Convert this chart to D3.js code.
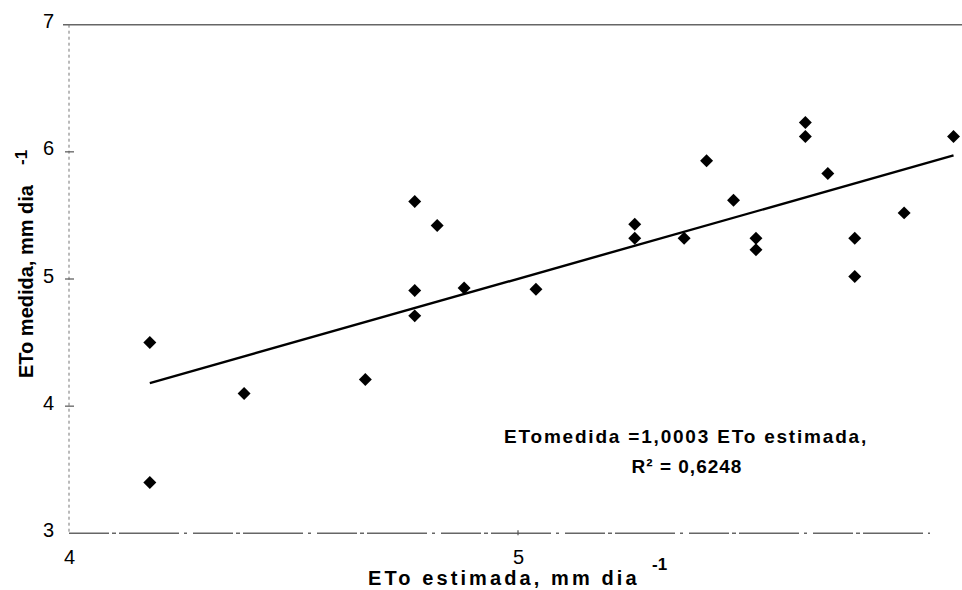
<!DOCTYPE html>
<html>
<head>
<meta charset="utf-8">
<script src="https://cdn.jsdelivr.net/npm/d3@7"></script>
<style>
  html, body { margin: 0; padding: 0; background: #fff; }
  svg { display: block; font-family: "Liberation Sans", Arial, sans-serif; }
</style>
</head>
<body>
<svg id="chart" width="962" height="590"></svg>
<script>
// ETo estimada (x) and ETo medida (y), mm dia-1
const etoEstimada = [4.18, 4.18, 4.39, 4.66, 4.77, 4.77, 4.77, 4.82, 4.88, 5.04,
                     5.26, 5.26, 5.37, 5.42, 5.48, 5.53, 5.53, 5.64, 5.64, 5.69,
                     5.75, 5.75, 5.86, 5.97];
const etoMedida   = [4.50, 3.40, 4.10, 4.21, 5.61, 4.91, 4.71, 5.42, 4.93, 4.92,
                     5.43, 5.32, 5.32, 5.93, 5.62, 5.32, 5.23, 6.23, 6.12, 5.83,
                     5.32, 5.02, 5.52, 6.12];
const yTicks = [3, 4, 5, 6, 7];
const yInnerTicks = [4, 5, 6];
const xTicks = [4, 5];
const slope = 1.0003;
const eqLine1 = "ETomedida =1,0003 ETo estimada,";
const eqLine2 = "R² = 0,6248";
const xTitle = "ETo estimada, mm dia";
const yTitle = "ETo  medida, mm dia";
const supText = "-1";

const points = etoEstimada.map((v, i) => ({ x: v, y: etoMedida[i] }));

const svg = d3.select("#chart");
const x = d3.scaleLinear().domain([4, 5]).range([69, 518]);
const y = d3.scaleLinear().domain([3, 7]).range([533.3, 24.7]);

// top and bottom frame lines
svg.append("line")
  .attr("x1", 63).attr("x2", 962)
  .attr("y1", y(7)).attr("y2", y(7))
  .attr("stroke", "#666").attr("stroke-width", 1.6);
svg.append("line")
  .attr("x1", x(4)).attr("x2", 930)
  .attr("y1", y(3)).attr("y2", y(3))
  .attr("stroke", "#666").attr("stroke-width", 1.5)
  .attr("stroke-dasharray", "40,3,4,3,60,5,3,6");

// left axis (dotted)
svg.append("line")
  .attr("x1", x(4)).attr("x2", x(4))
  .attr("y1", y(7)).attr("y2", y(3))
  .attr("stroke", "#777").attr("stroke-width", 1)
  .attr("stroke-dasharray", "3,3");

svg.selectAll("line.ytick")
  .data(yInnerTicks).enter().append("line")
  .attr("class", "ytick")
  .attr("x1", x(4) - 4).attr("x2", x(4) + 5)
  .attr("y1", d => y(d)).attr("y2", d => y(d))
  .attr("stroke", "#555").attr("stroke-width", 1.2);

svg.append("line")
  .attr("x1", x(5)).attr("x2", x(5))
  .attr("y1", y(3) - 3).attr("y2", y(3) + 2)
  .attr("stroke", "#555").attr("stroke-width", 1.2);

// y axis labels
const yAxis = d3.axisLeft(y).tickValues(yTicks).tickSize(0).tickPadding(15)
  .tickFormat(d3.format("d"));
const gy = svg.append("g").attr("transform", `translate(${x(4)},0)`).call(yAxis);
gy.select(".domain").remove();
gy.selectAll("text")
  .attr("dy", "0.15em")
  .attr("font-size", 20)
  .attr("font-family", "Liberation Sans, Arial, sans-serif")
  .attr("fill", "#000");

// x axis labels
const xAxis = d3.axisBottom(x).tickValues(xTicks).tickSize(0).tickPadding(17)
  .tickFormat(d3.format("d"));
const gx = svg.append("g").attr("transform", `translate(0,${y(3)})`).call(xAxis);
gx.select(".domain").remove();
gx.selectAll("text")
  .attr("font-size", 20)
  .attr("font-family", "Liberation Sans, Arial, sans-serif")
  .attr("fill", "#000");

// trend line
const xMin = d3.min(etoEstimada), xMax = d3.max(etoEstimada);
const line = d3.line().x(d => x(d)).y(d => y(slope * d));
svg.append("path")
  .datum([xMin, xMax])
  .attr("d", line)
  .attr("fill", "none")
  .attr("stroke", "#000")
  .attr("stroke-width", 2.4);

// markers
const sym = d3.symbol().type(d3.symbolSquare).size(84);
svg.selectAll("path.pt")
  .data(points).enter().append("path")
  .attr("class", "pt")
  .attr("d", sym)
  .attr("transform", d => `translate(${x(d.x)},${y(d.y)}) rotate(45)`)
  .attr("fill", "#000");

// equation annotation
svg.append("text")
  .attr("x", 686).attr("y", 443)
  .attr("text-anchor", "middle")
  .attr("font-size", 19).attr("font-weight", "bold")
  .attr("letter-spacing", 1.8)
  .text(eqLine1);
svg.append("text")
  .attr("x", 687).attr("y", 473)
  .attr("text-anchor", "middle")
  .attr("font-size", 19).attr("font-weight", "bold")
  .attr("letter-spacing", 1)
  .text(eqLine2);

// x axis title
svg.append("text")
  .attr("x", 368).attr("y", 585)
  .attr("font-size", 20).attr("font-weight", "bold")
  .attr("letter-spacing", 3.1)
  .text(xTitle);
svg.append("text")
  .attr("x", 652).attr("y", 570)
  .attr("font-size", 17).attr("font-weight", "bold")
  .text(supText);

// y axis title
const yt = svg.append("text")
  .attr("transform", "translate(33,378) rotate(-90)")
  .attr("font-size", 20).attr("font-weight", "bold");
yt.append("tspan").text(yTitle);
yt.append("tspan").attr("dx", 20).attr("dy", -6)
  .attr("font-size", 17).text(supText);
</script>
</body>
</html>
